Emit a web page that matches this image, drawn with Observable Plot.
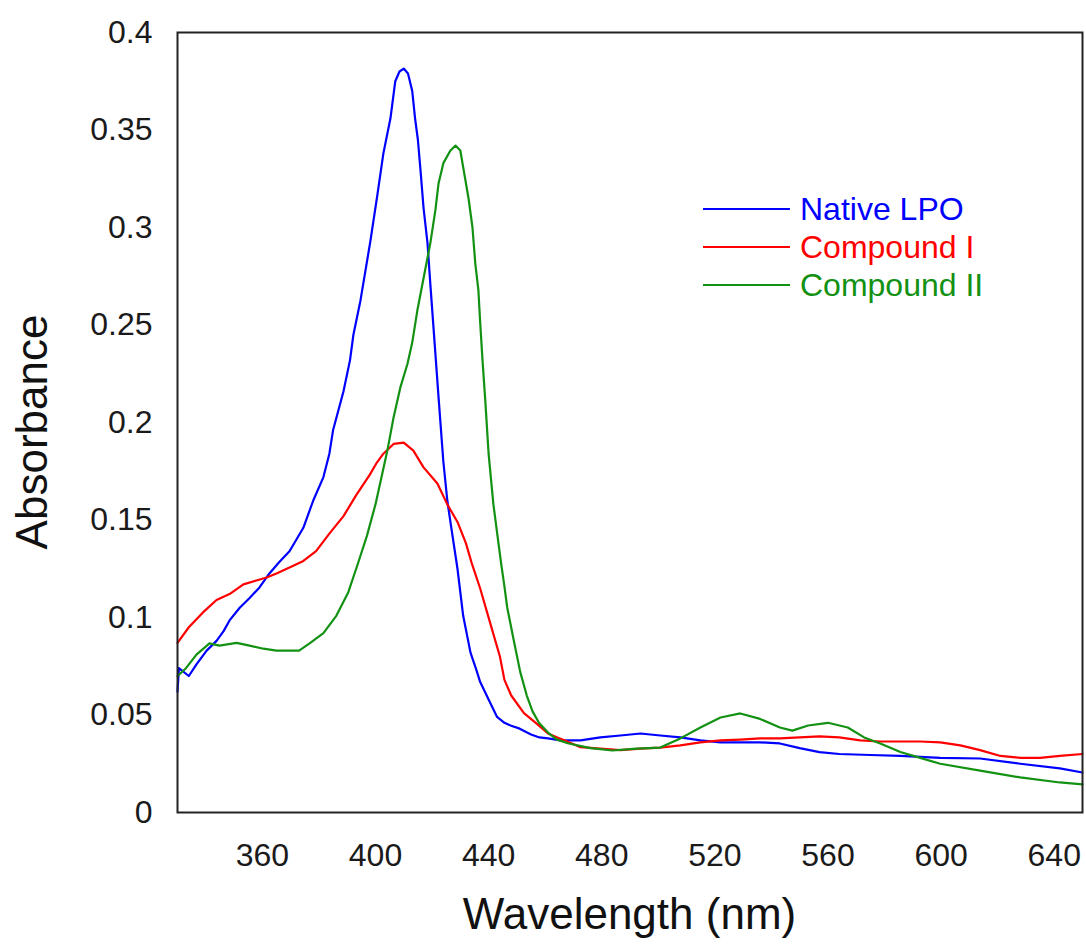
<!DOCTYPE html>
<html>
<head>
<meta charset="utf-8">
<script src="https://cdn.jsdelivr.net/npm/d3@7"></script>
<script src="https://cdn.jsdelivr.net/npm/@observablehq/plot@0.6"></script>
<style>
  html, body { margin: 0; padding: 0; background: #fff; }
  #chart { position: relative; width: 1086px; height: 949px; }
  svg { font-family: "Liberation Sans", Arial, sans-serif; }
</style>
</head>
<body>
<div id="chart"></div>
<script>
// ---- Data ----
const seriesNames = ["Native LPO", "Compound I", "Compound II"];
const seriesColors = ["#0000ff", "#ff0000", "#139113"];

const xTicks = [360, 400, 440, 480, 520, 560, 600, 640];
const xTickLabels = ["360", "400", "440", "480", "520", "560", "600", "640"];
const yTicks = [0, 0.05, 0.1, 0.15, 0.2, 0.25, 0.3, 0.35, 0.4];
const yTickLabels = ["0", "0.05", "0.1", "0.15", "0.2", "0.25", "0.3", "0.35", "0.4"];

const nativeWl = [330, 330.5, 334, 336.7, 340.3, 343.8, 346.3, 348.4, 352, 355.5, 359, 362.5, 366, 369.6, 374.5, 378, 381.6, 383.7, 385, 388.7, 391, 392.2, 394.7, 398.2, 400.7, 402.8, 405.3, 407, 408.5, 410, 411.5, 413, 414, 415, 416, 417, 418.4, 419.4, 420.5, 422.3, 424, 425.4, 426.5, 429, 431, 433.6, 435.7, 437, 440, 443, 445.6, 448, 451, 455, 458, 461, 465.4, 472.5, 479.5, 486.6, 493.7, 500.7, 507.8, 514.9, 522, 529, 536, 543, 550, 557, 564, 575, 585.6, 599.7, 613.8, 628, 642, 650];
const nativeAbs = [0.062, 0.074, 0.070, 0.076, 0.083, 0.088, 0.093, 0.0985, 0.105, 0.110, 0.1154, 0.1226, 0.1285, 0.134, 0.146, 0.160, 0.172, 0.184, 0.196, 0.216, 0.232, 0.245, 0.2626, 0.293, 0.317, 0.338, 0.356, 0.375, 0.380, 0.3815, 0.379, 0.370, 0.356, 0.345, 0.328, 0.310, 0.292, 0.271, 0.249, 0.213, 0.180, 0.160, 0.149, 0.125, 0.101, 0.082, 0.073, 0.067, 0.058, 0.049, 0.046, 0.0445, 0.043, 0.040, 0.0385, 0.038, 0.037, 0.037, 0.0385, 0.0395, 0.0405, 0.0395, 0.0385, 0.037, 0.036, 0.036, 0.036, 0.0354, 0.033, 0.031, 0.030, 0.0295, 0.029, 0.028, 0.0277, 0.025, 0.0226, 0.0205];

const compIWl = [330, 334, 339, 343.8, 348.4, 353.3, 357.9, 361.5, 365, 369.6, 374.5, 379, 383.7, 388.7, 393.3, 397.9, 400.3, 402.8, 406.4, 410, 413.4, 417, 421.9, 425.4, 429, 432, 434, 437, 440.6, 444, 445.6, 448, 452.5, 457, 461, 464.3, 466.8, 472.5, 479.5, 486.6, 493.7, 500.7, 507.8, 514.9, 522, 529, 536, 543, 550, 557, 564, 571.4, 578.5, 585.6, 592.6, 599.7, 606.8, 613.8, 621, 628, 635, 642, 650];
const compIAbs = [0.087, 0.095, 0.1026, 0.109, 0.112, 0.117, 0.119, 0.1205, 0.1226, 0.1256, 0.129, 0.134, 0.143, 0.152, 0.163, 0.173, 0.179, 0.184, 0.189, 0.1897, 0.1856, 0.177, 0.1687, 0.158, 0.149, 0.138, 0.128, 0.115, 0.097, 0.080, 0.068, 0.060, 0.051, 0.0456, 0.0405, 0.0385, 0.037, 0.0335, 0.0328, 0.032, 0.0328, 0.0333, 0.0344, 0.036, 0.037, 0.0374, 0.038, 0.038, 0.0385, 0.039, 0.0385, 0.037, 0.0364, 0.0364, 0.0364, 0.036, 0.0344, 0.032, 0.029, 0.028, 0.028, 0.029, 0.030];

const compIIWl = [330, 333, 336.7, 341.3, 344.8, 350.9, 355.5, 360.4, 365, 373, 376.7, 381.6, 386.2, 390.4, 393.8, 397, 400, 404.2, 406.4, 408.8, 411.3, 413, 414.8, 417, 419.4, 421.2, 422.3, 424, 426.5, 428.3, 430, 431, 432.9, 434.3, 435.3, 436.4, 437, 437.8, 438.9, 440, 441.7, 443.5, 444.5, 445.5, 446.6, 448.8, 451.2, 453.5, 455.5, 457.8, 461, 464, 468, 476, 483.8, 492.2, 500.7, 507.8, 514.9, 522, 529, 536, 543, 547.4, 553, 560, 567, 572.8, 578.5, 585.6, 592.6, 599.7, 613.8, 628, 642, 650];
const compIIAbs = [0.070, 0.074, 0.081, 0.0867, 0.0856, 0.087, 0.0856, 0.084, 0.083, 0.083, 0.0867, 0.092, 0.101, 0.113, 0.1277, 0.142, 0.158, 0.1856, 0.2026, 0.218, 0.230, 0.241, 0.2574, 0.274, 0.292, 0.309, 0.3226, 0.333, 0.3395, 0.342, 0.3395, 0.331, 0.315, 0.300, 0.2815, 0.2677, 0.252, 0.233, 0.2097, 0.184, 0.158, 0.138, 0.127, 0.117, 0.105, 0.089, 0.072, 0.060, 0.052, 0.046, 0.041, 0.0375, 0.0355, 0.033, 0.0318, 0.0328, 0.0333, 0.038, 0.0436, 0.0487, 0.0508, 0.048, 0.0436, 0.042, 0.0446, 0.046, 0.0436, 0.0385, 0.0354, 0.031, 0.028, 0.025, 0.0215, 0.018, 0.0154, 0.0144];

// ---- Build table ----
const seriesWl = [nativeWl, compIWl, compIIWl];
const seriesAbs = [nativeAbs, compIAbs, compIIAbs];
const rows = [];
seriesNames.forEach((name, s) => {
  seriesWl[s].forEach((wl, i) => rows.push({series: name, wl, abs: seriesAbs[s][i]}));
});

const W = 1086, H = 949;
const mL = 177, mR = 4, mT = 32, mB = 137;

const chart = Plot.plot({
  width: W,
  height: H,
  marginLeft: mL,
  marginRight: mR,
  marginTop: mT,
  marginBottom: mB,
  style: {fontFamily: '"Liberation Sans", Arial, sans-serif', fontSize: "32px", color: "#1a1a1a", background: "#fff", overflow: "visible"},
  x: {domain: [330, 650], ticks: xTicks, tickFormat: d => xTickLabels[xTicks.indexOf(d)], tickSize: 0, tickPadding: 31, label: null},
  y: {domain: [0, 0.4], ticks: yTicks, tickFormat: d => yTickLabels[yTicks.indexOf(d)], tickSize: 0, tickPadding: 25, label: null},
  color: {domain: seriesNames, range: seriesColors},
  marks: [
    Plot.line(rows, {x: "wl", y: "abs", z: "series", stroke: "series", strokeWidth: 2.2, curve: "linear"}),
    Plot.frame({stroke: "#222", strokeWidth: 2})
  ]
});

document.getElementById("chart").appendChild(chart);

// ---- Axis titles & legend ----
const svg = d3.select(chart);
const plotCx = mL + (W - mL - mR) / 2;
const plotCy = mT + (H - mT - mB) / 2;

svg.append("text")
  .attr("x", plotCx).attr("y", 929)
  .attr("text-anchor", "middle")
  .attr("font-size", 44).attr("fill", "#111")
  .text("Wavelength (nm)");

svg.append("text")
  .attr("transform", `translate(47,${plotCy + 10}) rotate(-90)`)
  .attr("text-anchor", "middle")
  .attr("font-size", 44).attr("fill", "#111")
  .text("Absorbance");

const legend = svg.append("g").attr("transform", "translate(703,209)");
seriesNames.forEach((name, i) => {
  const g = legend.append("g").attr("transform", `translate(0,${i * 38})`);
  g.append("line").attr("x1", 0).attr("x2", 87).attr("y1", 0).attr("y2", 0)
    .attr("stroke", seriesColors[i]).attr("stroke-width", 2);
  g.append("text").attr("x", 97).attr("y", 0).attr("dy", "0.35em")
    .attr("text-anchor", "start")
    .attr("font-size", 32).attr("fill", seriesColors[i]).text(name);
});
</script>
</body>
</html>
